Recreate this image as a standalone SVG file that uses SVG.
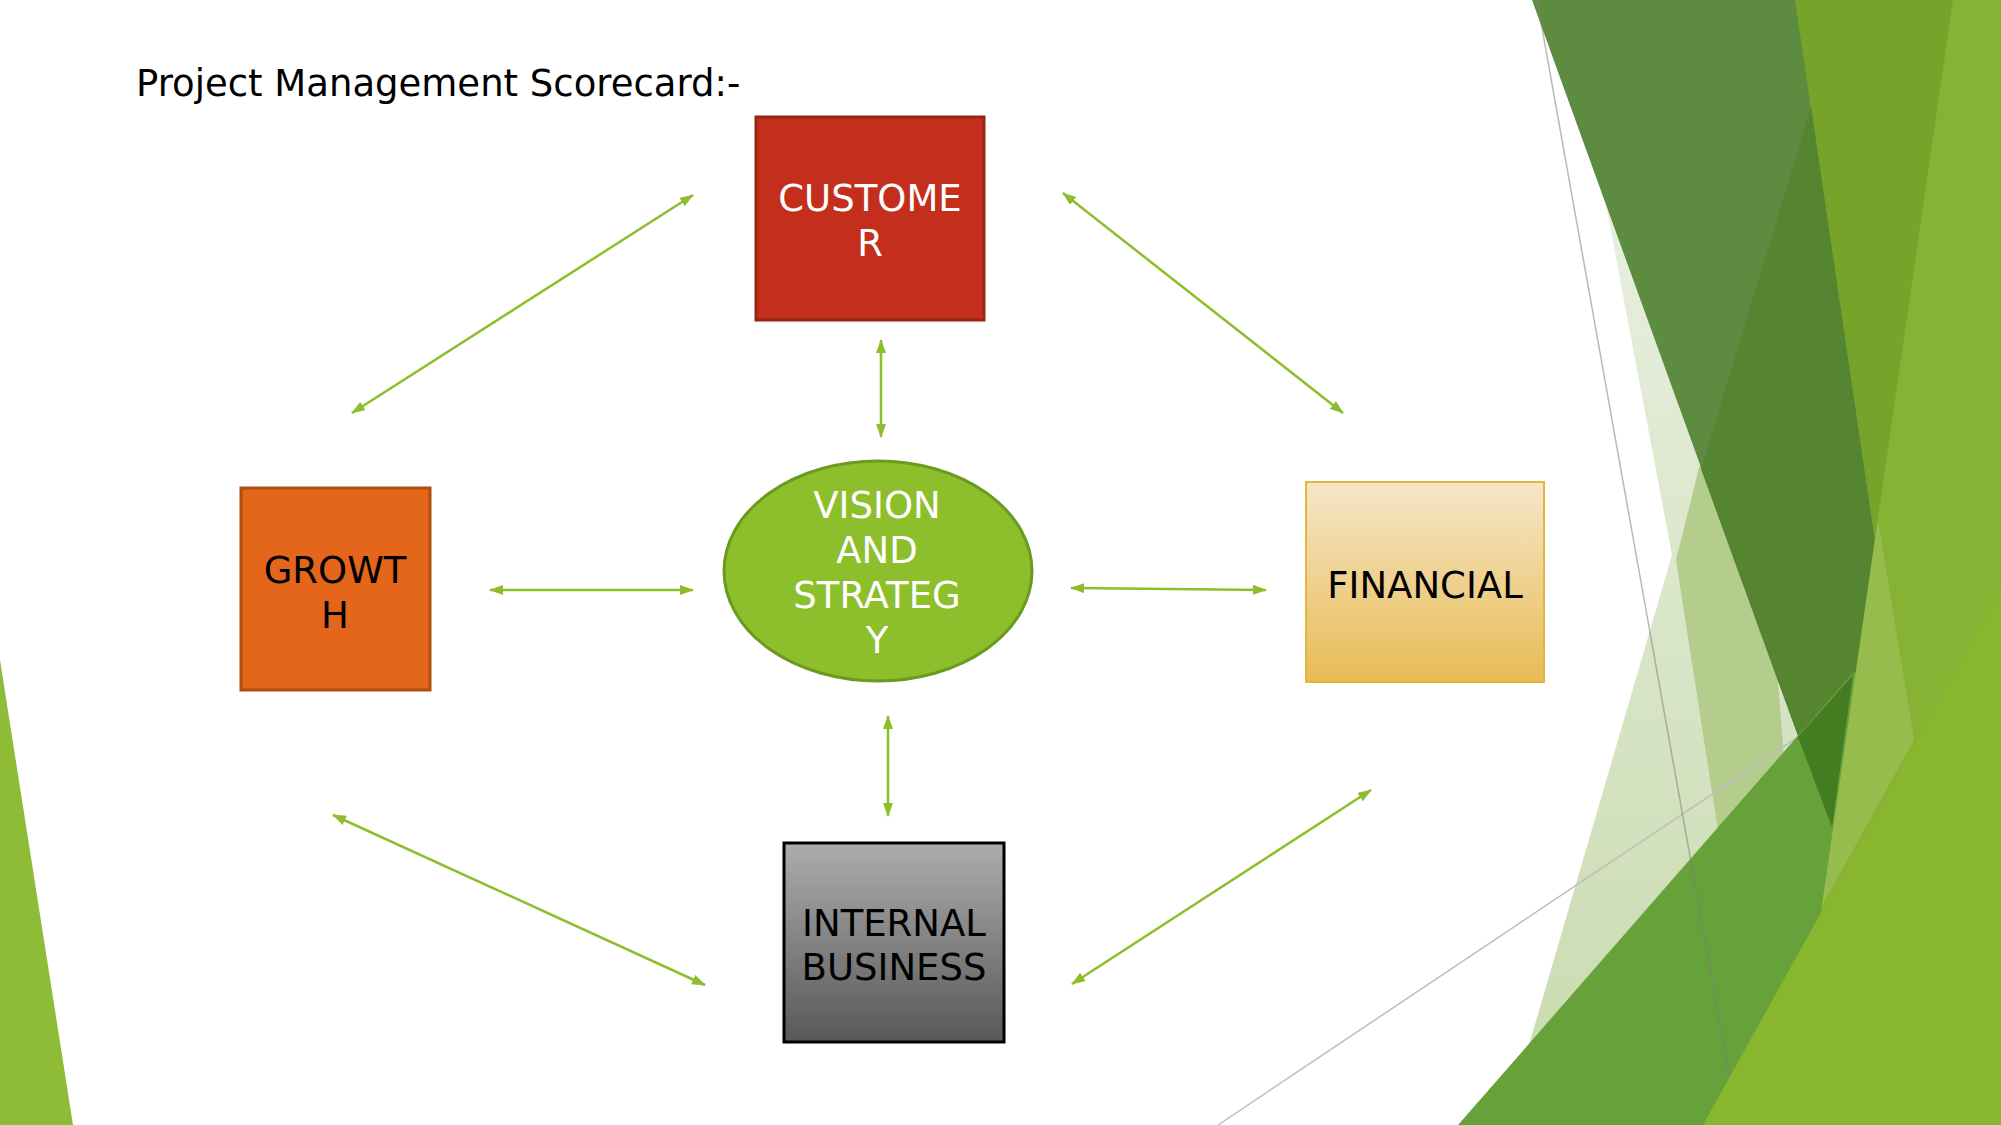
<svg xmlns="http://www.w3.org/2000/svg" width="2001" height="1125" viewBox="0 0 2001 1125">
  <defs>
    <linearGradient id="gFin" x1="0" y1="0" x2="0" y2="1">
      <stop offset="0" stop-color="#F6E6C9"/>
      <stop offset="1" stop-color="#E8BB55"/>
    </linearGradient>
    <linearGradient id="gInt" x1="0" y1="0" x2="0" y2="1">
      <stop offset="0" stop-color="#ADADAD"/>
      <stop offset="1" stop-color="#585858"/>
    </linearGradient>
    <linearGradient id="gPale" x1="0" y1="0" x2="0" y2="1">
      <stop offset="0" stop-color="#E8EFDF"/>
      <stop offset="1" stop-color="#C8DAAD"/>
    </linearGradient>
    <marker id="ah" viewBox="0 0 14 10" refX="13" refY="5" markerWidth="14" markerHeight="10" markerUnits="userSpaceOnUse" orient="auto-start-reverse">
      <path d="M0,0 L14,5 L0,10 z" fill="#8DBE2C"/>
    </marker>
    <style>
      .lbl { font-family: "DejaVu Sans", Verdana, sans-serif; font-size: 37px; text-anchor: middle; }
      .w { fill: #FFFFFF; }
      .k { fill: #000000; }
      .conn line { stroke: #8DBE2C; stroke-width: 2.5; marker-start: url(#ah); marker-end: url(#ah); }
    </style>
  </defs>

  <rect width="2001" height="1125" fill="#FFFFFF"/>

  <g id="background">
    <polygon points="0,660 73,1125 0,1125" fill="#8EBC37"/>
    <polygon points="1606,205 1831,827 1800,1125 1480,1125 1529,1045 1672,555" fill="url(#gPale)"/>
    <polygon points="1700,464 1676,560 1718,830 1790,830 1760,464" fill="#B4CC8C"/>
    <polygon points="1780,0 1970,0 1880,557 1860,557" fill="#76A32A"/>
    <polygon points="1532,0 1795,0 1882,590 1880,800 1831,827" fill="#5D8B40"/>
    <polygon points="1811,107 1701,469 1831,827 1880,800 1882,590" fill="#568532"/>
    <line x1="1218" y1="1125" x2="2001" y2="601" stroke="#BDBDBD" stroke-width="1.5"/>
    <polygon points="1458,1125 1851,675 1960,600 1960,1125" fill="#67A13A"/>
    <polygon points="1798,737 1853,675 1832,827" fill="#437C21"/>
    <polygon points="1953,0 2001,0 2001,1125 1790,1125" fill="#87B334"/>
    <polygon points="1878,520 1914,740 1822,906" fill="#FFFFFF" fill-opacity="0.13"/>
    <line x1="1537" y1="0" x2="1738" y2="1125" stroke="#7F7F7F" stroke-opacity="0.55" stroke-width="1.5"/>
    <polygon points="2001,589 2001,1125 1703,1125" fill="#88B62E"/>
  </g>

  <text id="title" x="136" y="96" font-family="DejaVu Sans, Verdana, sans-serif" font-size="37" fill="#000000">Project Management Scorecard:-</text>

  <g id="connectors" class="conn">
    <line x1="693" y1="195" x2="352" y2="413"/>
    <line x1="1063" y1="193" x2="1343" y2="413"/>
    <line x1="881" y1="340" x2="881" y2="437"/>
    <line x1="490" y1="590" x2="693" y2="590"/>
    <line x1="1071" y1="588" x2="1266" y2="590"/>
    <line x1="888" y1="716" x2="888" y2="816"/>
    <line x1="333" y1="815" x2="705" y2="985"/>
    <line x1="1371" y1="790" x2="1072" y2="984"/>
  </g>

  <g id="customer">
    <rect x="756" y="117" width="228" height="203" fill="#C42F1D" stroke="#982414" stroke-width="3"/>
    <text class="lbl w" x="870" y="211">CUSTOME</text>
    <text class="lbl w" x="870" y="256">R</text>
  </g>

  <g id="growth">
    <rect x="241" y="488" width="189" height="202" fill="#E4661A" stroke="#AE4E10" stroke-width="3"/>
    <text class="lbl k" x="335" y="583">GROWT</text>
    <text class="lbl k" x="335" y="628">H</text>
  </g>

  <g id="vision">
    <ellipse cx="878" cy="571" rx="154" ry="110" fill="#8DBE2B" stroke="#6A9A20" stroke-width="3"/>
    <text class="lbl w" x="877" y="518">VISION</text>
    <text class="lbl w" x="877" y="563">AND</text>
    <text class="lbl w" x="877" y="608">STRATEG</text>
    <text class="lbl w" x="877" y="653">Y</text>
  </g>

  <g id="financial">
    <rect x="1306" y="482" width="238" height="200" fill="url(#gFin)" stroke="#E2B83C" stroke-width="2"/>
    <text class="lbl k" x="1425" y="598">FINANCIAL</text>
  </g>

  <g id="internal">
    <rect x="784" y="843" width="220" height="199" fill="url(#gInt)" stroke="#000000" stroke-width="3"/>
    <text class="lbl k" x="894" y="936">INTERNAL</text>
    <text class="lbl k" x="894" y="980">BUSINESS</text>
  </g>
</svg>
